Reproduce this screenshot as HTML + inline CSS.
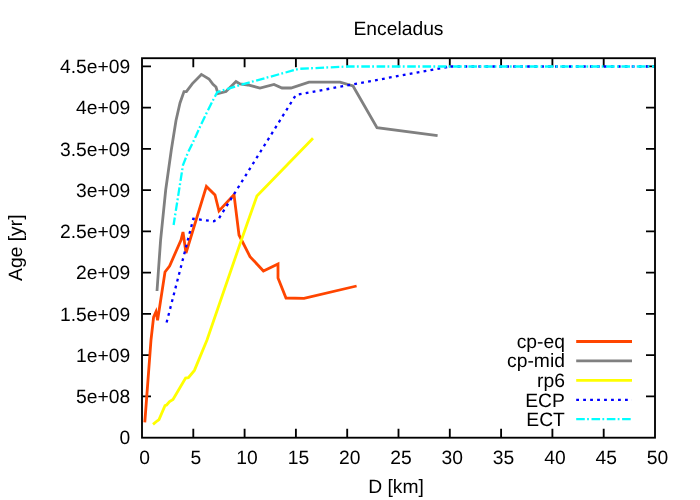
<!DOCTYPE html>
<html><head><meta charset="utf-8"><title>Enceladus</title>
<style>
html,body{margin:0;padding:0;background:#fff;}
body{width:700px;height:500px;overflow:hidden;}
svg{display:block;will-change:transform;}
text{text-rendering:geometricPrecision;font-family:"Liberation Sans",sans-serif;font-size:19.3px;fill:#000;}
.d{fill:none;stroke-width:2.8;stroke-linejoin:miter;stroke-miterlimit:3.8;stroke-linecap:butt;}
.t{stroke:#000;stroke-width:1.85;fill:none;stroke-linecap:butt;}
</style></head><body>
<svg width="700" height="500" viewBox="0 0 700 500">
<rect x="0" y="0" width="700" height="500" fill="#fff"/>

<path class="t" d="M193.30,437.7 v-9 M193.30,58.2 v9 M244.60,437.7 v-9 M244.60,58.2 v9 M295.90,437.7 v-9 M295.90,58.2 v9 M347.20,437.7 v-9 M347.20,58.2 v9 M398.50,437.7 v-9 M398.50,58.2 v9 M449.80,437.7 v-9 M449.80,58.2 v9 M501.10,437.7 v-9 M501.10,58.2 v9 M552.40,437.7 v-9 M552.40,58.2 v9 M603.70,437.7 v-9 M603.70,58.2 v9 M142.0,396.44 h9 M655.0,396.44 h-9 M142.0,355.19 h9 M655.0,355.19 h-9 M142.0,313.93 h9 M655.0,313.93 h-9 M142.0,272.68 h9 M655.0,272.68 h-9 M142.0,231.42 h9 M655.0,231.42 h-9 M142.0,190.17 h9 M655.0,190.17 h-9 M142.0,148.91 h9 M655.0,148.91 h-9 M142.0,107.66 h9 M655.0,107.66 h-9 M142.0,66.40 h9 M655.0,66.40 h-9"/>
<text x="144.50" y="463.7" text-anchor="middle">0</text>
<text x="195.80" y="463.7" text-anchor="middle">5</text>
<text x="247.10" y="463.7" text-anchor="middle">10</text>
<text x="298.40" y="463.7" text-anchor="middle">15</text>
<text x="349.70" y="463.7" text-anchor="middle">20</text>
<text x="401.00" y="463.7" text-anchor="middle">25</text>
<text x="452.30" y="463.7" text-anchor="middle">30</text>
<text x="503.60" y="463.7" text-anchor="middle">35</text>
<text x="554.90" y="463.7" text-anchor="middle">40</text>
<text x="606.20" y="463.7" text-anchor="middle">45</text>
<text x="657.50" y="463.7" text-anchor="middle">50</text>
<text x="130.2" y="444.40" text-anchor="end">0</text>
<text x="130.2" y="403.14" text-anchor="end">5e+08</text>
<text x="130.2" y="361.89" text-anchor="end">1e+09</text>
<text x="130.2" y="320.63" text-anchor="end">1.5e+09</text>
<text x="130.2" y="279.38" text-anchor="end">2e+09</text>
<text x="130.2" y="238.12" text-anchor="end">2.5e+09</text>
<text x="130.2" y="196.87" text-anchor="end">3e+09</text>
<text x="130.2" y="155.61" text-anchor="end">3.5e+09</text>
<text x="130.2" y="114.36" text-anchor="end">4e+09</text>
<text x="130.2" y="73.10" text-anchor="end">4.5e+09</text>
<text x="398.5" y="35.4" text-anchor="middle">Enceladus</text>
<text x="396.1" y="492.7" text-anchor="middle">D [km]</text>
<text transform="translate(21.6,247.7) rotate(-90)" text-anchor="middle">Age [yr]</text>
<polyline class="d" stroke="#ff4500" points="144.8,422.4 151.0,340.0 153.6,317.0 156.0,311.6 157.6,320.3 165.0,272.0 169.6,266.0 181.0,240.0 183.0,232.0 186.0,253.0 206.4,186.4 215.0,195.0 219.0,211.0 234.0,194.6 239.0,235.0 250.0,256.6 263.4,271.0 278.0,264.0 278.0,278.0 286.0,298.0 304.0,298.4 356.6,286.0"/>
<polyline class="d" stroke="#808080" points="157.0,291.0 160.6,240.0 165.7,190.0 171.3,150.0 176.0,120.5 180.0,103.0 184.0,91.6 186.4,91.6 192.4,83.6 201.4,74.4 209.0,79.0 213.0,84.4 216.0,87.0 218.0,93.6 226.0,91.6 236.0,81.6 240.0,84.0 248.0,85.0 260.0,88.0 274.0,84.4 282.0,88.0 291.0,88.0 309.0,82.1 340.0,82.1 353.0,86.0 377.0,127.6 437.6,135.6"/>
<polyline class="d" stroke="#ffff00" points="153.0,424.4 157.0,421.0 159.0,419.6 165.0,405.6 166.6,405.0 169.6,401.6 173.0,399.4 185.6,378.0 188.4,377.6 194.4,370.4 207.0,340.0 240.0,244.0 256.9,196.0 313.0,138.3"/>
<polyline class="d" stroke="#0000ff" style="stroke-width:2.3" stroke-dasharray="2.8,4.25" points="166.6,322.5 193.3,218.8 213.8,221.2 218.9,218.4 295.9,94.9 449.8,66.5"/>
<polyline class="d" stroke="#0000ff" style="stroke-width:2.3" stroke-dasharray="2.8,4.17" points="450.5,66.5 655.0,66.5"/>
<polyline class="d" stroke="#00ffff" style="stroke-width:2.3" stroke-dasharray="8.57,2.29,1.79,2.59" stroke-dashoffset="1" points="173.6,225.0 183.0,165.0 188.0,152.5 194.3,139.5 200.6,125.5 206.9,112.4 212.3,101.6 217.2,92.2 240.0,85.0 299.0,68.8 346.0,66.6"/>
<polyline class="d" stroke="#00ffff" style="stroke-width:2.3" stroke-dasharray="8.6,2.3,1.8,2.6" points="346.0,66.5 655.0,66.5"/>
<text x="564.9" y="347.50" text-anchor="end">cp-eq</text>
<line class="d" stroke="#ff4500" x1="576.2" y1="341.5" x2="632" y2="341.5"/>
<text x="564.9" y="367.17" text-anchor="end">cp-mid</text>
<line class="d" stroke="#808080" x1="576.2" y1="360.9" x2="632" y2="360.9"/>
<text x="564.9" y="386.84" text-anchor="end">rp6</text>
<line class="d" stroke="#ffff00" x1="576.2" y1="380.3" x2="632" y2="380.3"/>
<text x="564.9" y="406.61" text-anchor="end">ECP</text>
<line class="d" stroke="#0000ff" style="stroke-width:2.3" stroke-dasharray="2.8,4.17" x1="576.2" y1="399.8" x2="632" y2="399.8"/>
<text x="564.9" y="426.28" text-anchor="end">ECT</text>
<line class="d" stroke="#00ffff" style="stroke-width:2.3" stroke-dasharray="8.6,2.3,1.8,2.6" x1="576.2" y1="419.2" x2="632" y2="419.2"/>
<rect class="t" x="142.0" y="58.2" width="513.0" height="379.5"/>
</svg></body></html>
